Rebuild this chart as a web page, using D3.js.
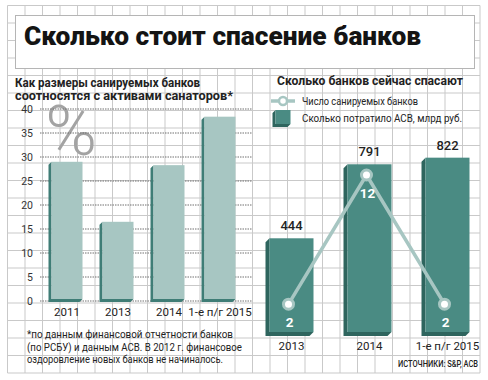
<!DOCTYPE html>
<html><head><meta charset="utf-8">
<script src="https://cdn.jsdelivr.net/npm/d3@7/dist/d3.min.js"></script>
<style>html,body{margin:0;padding:0;background:#fff;}svg{display:block;}</style>
</head><body>
<svg id="c" width="488" height="380"></svg>
<script>
// ---- data ----
const leftCategories = ["2011", "2013", "2014", "1-е п/г 2015"];
const leftValues = [29, 16.5, 28.3, 38.4];
const leftTicks = [0, 5, 10, 15, 20, 25, 30, 35, 40];
const rightCategories = ["2013", "2014", "1-е п/г 2015"];
const spentValues = [444, 791, 822];
const bankCounts = [2, 12, 2];
const titleText = "Сколько стоит спасение банков";
const leftSubtitle = ["Как размеры санируемых банков", "соотносятся с активами санаторов*"];
const rightSubtitle = "Сколько банков сейчас спасают";
const legendLabels = ["Число санируемых банков", "Сколько потратило АСВ, млрд руб."];
const footnote = ["*по данным финансовой отчетности банков", "(по РСБУ) и данным АСВ. В 2012 г. финансовое", "оздоровление новых банков не начиналось."];
const sourceText = "ИСТОЧНИКИ: S&P, АСВ";

const svg = d3.select("#c");
const FONT = "Roboto, 'Noto Sans', sans-serif";
const lightTeal = "#a7c6c2", darkTeal = "#3f7d76", midTeal = "#4a8b83", deepTeal = "#2e655e";

function txt(t, x, y, size, weight, color, anchor, len) {
  const e = svg.append("text").attr("x", x).attr("y", y).text(t)
    .attr("font-family", FONT).attr("font-size", size).attr("font-weight", weight)
    .attr("fill", color).attr("text-anchor", anchor || "start");
  if (len) e.attr("textLength", len).attr("lengthAdjust", "spacingAndGlyphs");
  return e;
}

// ---- background grid ----
const grid = svg.append("g").attr("stroke", "#c9c9c9").attr("stroke-width", 1);
const gx = d3.range(0, 28).map(k => 7.5 + k * 17.5);
const gy = d3.range(0, 22).map(k => 5.5 + k * 17.5);
gx.forEach(x => grid.append("line").attr("x1", x).attr("x2", x).attr("y1", 5.5).attr("y2", 373));
gy.forEach(y => grid.append("line").attr("y1", y).attr("y2", y).attr("x1", 7.5).attr("x2", 480));

// ---- title panel ----
svg.append("rect").attr("x", 15.5).attr("y", 15.5).attr("width", 459).attr("height", 53)
  .attr("fill", "#fff").attr("stroke", "#b5b5b5").attr("stroke-width", 1);
txt(titleText, 24, 45, 25, 900, "#141414", "start", 397);

// ---- left chart ----
txt(leftSubtitle[0], 15, 87, 12, 700, "#222", "start", 185);
txt(leftSubtitle[1], 15, 99.5, 12, 700, "#222", "start", 218);

const yL = d3.scaleLinear().domain([0, 40]).range([301, 109]);
const xL = d3.scalePoint().domain(leftCategories).range([67, 220]);

// big percent sign
txt("%", 71, 155, 70, 300, "#a3a3a3", "middle");

// dotted gridlines + tick labels
const yAxisL = d3.axisLeft(yL).tickValues(leftTicks).tickSize(0).tickPadding(0);
const axL = svg.append("g").attr("transform", "translate(33,0)").call(yAxisL);
axL.select(".domain").remove();
axL.selectAll("text").attr("font-family", FONT).attr("font-size", 10.5).attr("fill", "#333").attr("dy", "0.35em");
leftTicks.forEach(t => {
  svg.append("line").attr("x1", 40).attr("x2", 252).attr("y1", yL(t)).attr("y2", yL(t))
    .attr("stroke", "#707070").attr("stroke-width", 1).attr("stroke-dasharray", "1.5,1");
});

function bar3d(cx, w, top, bottom, off, face, side) {
  const x0 = cx - w / 2, x1 = cx + w / 2;
  svg.append("polygon")
    .attr("points", [[x0, top], [x0 - off, top + off], [x0 - off, bottom + off], [x1 - off, bottom + off], [x1, bottom], [x0, bottom]].map(p => p.join(",")).join(" "))
    .attr("fill", side);
  svg.append("rect").attr("x", x0).attr("y", top).attr("width", w).attr("height", bottom - top).attr("fill", face);
}
leftCategories.forEach((c, i) => {
  bar3d(xL(c), 31, yL(leftValues[i]), yL(0) - 2, 3, lightTeal, darkTeal);
  txt(c, xL(c), 316, 11.5, 400, "#222", "middle");
});

footnote.forEach((l, i) => txt(l, 27, 338 + i * 12.7, 11.5, 400, "#222", "start", [206, 215, 196][i]));

// ---- right chart ----
txt(rightSubtitle, 370, 85, 12.5, 700, "#222", "middle", 186);

// legend
svg.append("line").attr("x1", 271).attr("x2", 295).attr("y1", 101).attr("y2", 101).attr("stroke", lightTeal).attr("stroke-width", 3.5);
svg.append("circle").attr("cx", 283).attr("cy", 101).attr("r", 4).attr("fill", "#fff").attr("stroke", lightTeal).attr("stroke-width", 2.5);
txt(legendLabels[0], 302, 104.5, 11, 400, "#222", "start", 116);
bar3d(283, 15, 110, 124, 3, midTeal, deepTeal);
txt(legendLabels[1], 302, 122, 11, 400, "#222", "start", 160);

const xR = d3.scalePoint().domain(rightCategories).range([291.5, 447.5]);
const yR = d3.scaleLinear().domain([0, 1000]).range([333, 119.7]);
const yN = d3.scaleLinear().domain([0, 12]).range([330, 175]);

rightCategories.forEach((c, i) => {
  bar3d(xR(c), 44, yR(spentValues[i]), yR(0) - 1, 4, midTeal, deepTeal);
  txt(String(spentValues[i]), xR(c), yR(spentValues[i]) - 8, 13, 500, "#222", "middle");
  txt(c, xR(c), 350, 11.5, 400, "#222", "middle");
});

const line = d3.line().x(d => xR(d.c) - 3).y(d => yN(d.v));
const pts = rightCategories.map((c, i) => ({ c, v: bankCounts[i] }));
svg.append("path").datum(pts).attr("d", line).attr("fill", "none").attr("stroke", lightTeal).attr("stroke-width", 3.5);
pts.forEach(p => {
  svg.append("circle").attr("cx", xR(p.c) - 3).attr("cy", yN(p.v)).attr("r", 5).attr("fill", "#fff").attr("stroke", lightTeal).attr("stroke-width", 3);
  txt(String(p.v), xR(p.c) - 2, yN(p.v) + 23, 13.5, 700, "#fff", "middle");
});

txt(sourceText, 478, 367, 8.5, 500, "#222", "end", 80);
</script>
</body></html>
